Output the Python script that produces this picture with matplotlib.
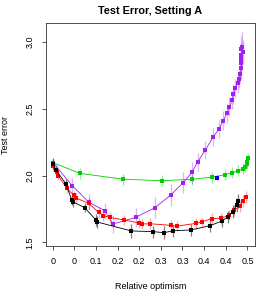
import matplotlib
matplotlib.use('Agg')
import matplotlib.pyplot as plt

plt.rcParams['font.family'] = ['Liberation Sans', 'DejaVu Sans']

# relative optimism (x), test error (y), half-width of error bar (e)
black_x = [0.0015, 0.0085, 0.034, 0.049, 0.053, 0.082, 0.111, 0.114, 0.202, 0.258,
           0.286, 0.310, 0.354, 0.404, 0.434, 0.451, 0.462, 0.473, 0.477]
black_y = [2.086, 2.041, 1.937, 1.817, 1.802, 1.760, 1.668, 1.653, 1.586, 1.581,
           1.573, 1.588, 1.593, 1.625, 1.660, 1.693, 1.730, 1.780, 1.810]
black_e = [0.035, 0.035, 0.035, 0.04, 0.04, 0.035, 0.045, 0.045, 0.05, 0.045,
           0.05, 0.045, 0.045, 0.045, 0.045, 0.045, 0.05, 0.05, 0.05]

red_x = [0.0015, 0.010, 0.014, 0.036, 0.055, 0.060, 0.093, 0.118, 0.130, 0.146,
         0.183, 0.222, 0.229, 0.250, 0.303, 0.318, 0.367, 0.383, 0.408, 0.433,
         0.454, 0.466, 0.481, 0.489, 0.496]
red_y = [2.071, 2.026, 2.000, 1.904, 1.851, 1.832, 1.791, 1.724, 1.701, 1.687,
         1.668, 1.646, 1.638, 1.640, 1.628, 1.622, 1.642, 1.653, 1.679, 1.681,
         1.705, 1.739, 1.775, 1.810, 1.840]
red_e = [0.035, 0.035, 0.035, 0.035, 0.035, 0.035, 0.04, 0.04, 0.04, 0.04,
         0.04, 0.04, 0.04, 0.04, 0.04, 0.04, 0.04, 0.04, 0.04, 0.04,
         0.04, 0.04, 0.045, 0.045, 0.045]

green_x = [0.0015, 0.070, 0.181, 0.281, 0.357, 0.408, 0.442, 0.461, 0.477, 0.488,
           0.494, 0.498, 0.4997, 0.5015]
green_y = [2.095, 2.016, 1.972, 1.961, 1.972, 1.987, 2.006, 2.021, 2.036, 2.051,
           2.066, 2.086, 2.103, 2.128]
green_e = [0.035, 0.04, 0.04, 0.04, 0.04, 0.04, 0.04, 0.04, 0.04, 0.04,
           0.04, 0.04, 0.04, 0.04]

purple_x = [0.0015, 0.050, 0.093, 0.134, 0.155, 0.213, 0.263, 0.303, 0.335, 0.358,
            0.372, 0.392, 0.412, 0.427, 0.438, 0.447, 0.454, 0.461, 0.464, 0.469,
            0.475, 0.479, 0.482, 0.484, 0.484, 0.484, 0.483, 0.489, 0.483, 0.485]
purple_y = [2.095, 1.924, 1.800, 1.737, 1.638, 1.687, 1.761, 1.854, 1.946, 2.024,
            2.101, 2.190, 2.287, 2.347, 2.409, 2.464, 2.513, 2.563, 2.606, 2.651,
            2.688, 2.720, 2.757, 2.800, 2.837, 2.867, 2.899, 2.924, 2.942, 2.961]
purple_e = [0.035, 0.06, 0.06, 0.06, 0.07, 0.07, 0.08, 0.08, 0.08, 0.08,
            0.07, 0.07, 0.07, 0.07, 0.07, 0.07, 0.07, 0.07, 0.07, 0.07,
            0.07, 0.07, 0.07, 0.08, 0.08, 0.08, 0.09, 0.09, 0.1, 0.11]

blue_x = [0.421]
blue_y = [1.984]
blue_e = [0.02]

xtick_pos = [0.0, 0.0556, 0.1111, 0.1667, 0.2222, 0.2778, 0.3333, 0.3889, 0.4444, 0.5]
xtick_labels = ['0', '0', '0.1', '0.2', '0.2', '0.3', '0.3', '0.4', '0.4', '0.5']
ytick_pos = [1.5, 2.0, 2.5, 3.0]
ytick_labels = ['1.5', '2.0', '2.5', '3.0']

fig = plt.figure(figsize=(2.66, 2.92), dpi=100)
ax = fig.add_axes([0.1718, 0.1586, 0.9586 - 0.1718, 0.920 - 0.1586])

series = [
    (green_x, green_y, green_e, '#00CD00', (0.0, 0.8, 0.0, 0.4)),
    (purple_x, purple_y, purple_e, '#A020F0', (0.63, 0.13, 0.94, 0.35)),
    (red_x, red_y, red_e, '#FF0000', (1.0, 0.0, 0.0, 0.35)),
    (black_x, black_y, black_e, '#000000', (0.0, 0.0, 0.0, 0.5)),
    (blue_x, blue_y, blue_e, '#0000FF', (0.0, 0.0, 1.0, 0.4)),
]
for xs, ys, es, col, ecol in series:
    ax.vlines(xs, [y - e for y, e in zip(ys, es)], [y + e for y, e in zip(ys, es)],
              color=ecol, lw=0.9, zorder=2)
    ax.plot(xs, ys, '-', color=col, lw=0.6, marker='s', ms=2.3, mew=0, zorder=3)

ax.set_xlim(-0.018, 0.5195)
ax.set_ylim(1.476, 3.136)
ax.set_xticks(xtick_pos)
ax.set_xticklabels(xtick_labels, fontsize=6.5)
ax.set_yticks(ytick_pos)
ax.set_yticklabels(ytick_labels, fontsize=6.5, rotation=90, va='center')
ax.tick_params(length=3, width=0.6, pad=5, color='#333333')
for s in ax.spines.values():
    s.set_linewidth(0.6)
    s.set_color('#333333')

ax.set_title('Test Error, Setting A', fontsize=7.8, fontweight='bold', pad=7)
ax.set_xlabel('Relative optimism', fontsize=6.5, labelpad=12)
ax.set_ylabel('Test error', fontsize=6.5, labelpad=11)

fig.savefig('out.png', dpi=100)
